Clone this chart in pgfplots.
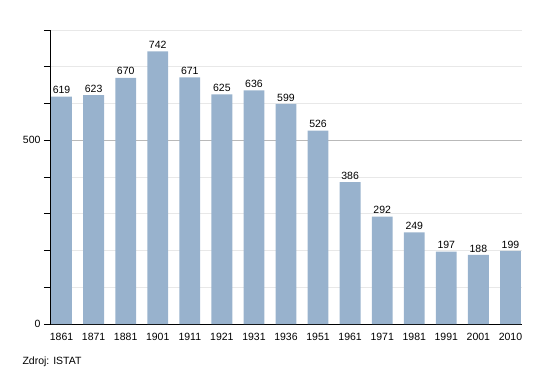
\documentclass[border=0pt]{standalone}
\usepackage{pgfplots}
\pgfplotsset{compat=1.18}
\usepackage{fontspec}
\setmainfont{Liberation Sans}
\definecolor{barblue}{HTML}{98B2CD}
\begin{document}
\begin{tikzpicture}
\path[use as bounding box] (-50pt,-49pt) rectangle (500pt,324pt);
\begin{axis}[
  scale only axis,
  width=472pt, height=294pt,
  at={(0pt,0pt)}, anchor=south west,
  ymin=0, ymax=800,
  xmin=-0.36, xmax=14.36,
  axis x line*=bottom,
  axis y line*=left,
  axis line style={black, line width=0.8pt},
  ytick={0,500},
  minor ytick={100,200,300,400,600,700,800},
  ymajorgrids, yminorgrids,
  major grid style={draw=gray!55, line width=0.6pt},
  minor grid style={draw=gray!18, line width=0.6pt},
  major tick length=6pt, minor tick length=6pt,
  tick align=outside,
  tick style={black, line width=0.8pt},
  xtick={0,...,14},
  xticklabels={1861,1871,1881,1901,1911,1921,1931,1936,1951,1961,1971,1981,1991,2001,2010},
  x tick style={draw=none},
  tick label style={font=\fontsize{10.5}{12}\selectfont},
  /pgf/number format/assume math mode=true,
  ybar, bar width=0.65, bar shift=0pt,
  nodes near coords,
  every node near coord/.append style={font=\fontsize{10.5}{12}\selectfont, black, inner sep=2.5pt},
  clip=false,
  axis on top=false,
]
\addplot[fill=barblue, draw=none] coordinates {
(0,619) (1,623) (2,670) (3,742) (4,671) (5,625) (6,636) (7,599)
(8,526) (9,386) (10,292) (11,249) (12,197) (13,188) (14,199)};
\end{axis}
\node[anchor=west, font=\fontsize{10.5}{12}\selectfont] at (-31pt,-38pt) {Zdroj: ISTAT};
\end{tikzpicture}
\end{document}
